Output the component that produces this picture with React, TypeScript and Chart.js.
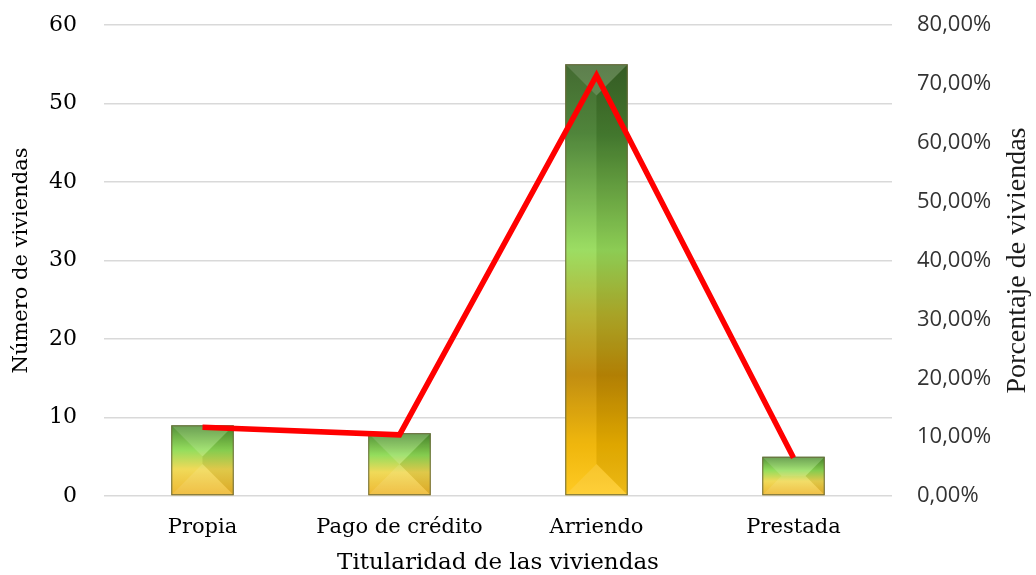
import React, { useEffect, useRef } from "react";
import { Chart, registerables } from "chart.js";

Chart.register(...registerables);

const categories = ["Propia", "Pago de crédito", "Arriendo", "Prestada"];
const viviendas = [9, 8, 55, 5];
const porcentaje = [11.69, 10.39, 71.43, 6.49];
const leftTicks = { min: 0, max: 60, step: 10 };
const rightTicks = { min: 0, max: 80, step: 10 };

const tallStops: [number, string][] = [
  [0, "#3a6327"],
  [0.16, "#477f31"],
  [0.43, "#97dc5b"],
  [0.58, "#b5b02a"],
  [0.72, "#bf8905"],
  [0.88, "#efb300"],
  [1, "#ffc819"],
];
const shortStops: [number, string][] = [
  [0, "#4a8a2e"],
  [0.35, "#8fdc55"],
  [0.62, "#f0d850"],
  [1, "#eeb326"],
];

const bevelPlugin = {
  id: "bevel",
  afterDatasetDraw(chart: any, args: any) {
    if (args.index !== 0) return;
    const ctx = chart.ctx;
    args.meta.data.forEach((el: any) => {
      const { x, y, base, width } = el.getProps(["x", "y", "base", "width"], true);
      const l = x - width / 2;
      const r = x + width / 2;
      const t = Math.min(y, base);
      const b = Math.max(y, base);
      const h = b - t;
      const d = Math.min(width / 2, h / 2);
      const il = l + d, ir = r - d, it = t + d, ib = b - d;
      const facet = (pts: number[][], color: string) => {
        ctx.beginPath();
        ctx.moveTo(pts[0][0], pts[0][1]);
        for (let i = 1; i < pts.length; i++) ctx.lineTo(pts[i][0], pts[i][1]);
        ctx.closePath();
        ctx.fillStyle = color;
        ctx.fill();
      };
      ctx.save();
      facet([[l, t], [r, t], [ir, it], [il, it]], "rgba(255,255,255,0.18)");
      facet([[l, t], [il, it], [il, ib], [l, b]], "rgba(255,255,255,0.05)");
      facet([[r, t], [r, b], [ir, ib], [ir, it]], "rgba(0,0,0,0.07)");
      facet([[l, b], [il, ib], [ir, ib], [r, b]], "rgba(255,255,255,0.14)");
      ctx.strokeStyle = "#6a6a3c";
      ctx.lineWidth = 1;
      ctx.strokeRect(l + 0.5, t + 0.5, width - 1, h - 1);
      ctx.restore();
    });
  },
};

const rightTitlePlugin = {
  id: "rightTitle",
  afterDraw(chart: any) {
    const ctx = chart.ctx;
    const s = chart.scales.y1;
    const area = chart.chartArea;
    ctx.save();
    ctx.translate(s.right - 18, (area.top + area.bottom) / 2);
    ctx.rotate(-Math.PI / 2);
    ctx.textAlign = "center";
    ctx.textBaseline = "middle";
    ctx.font = '28px "Liberation Serif"';
    ctx.fillStyle = "#1a1a1a";
    ctx.fillText("Porcentaje de viviendas", 0, 0);
    ctx.restore();
  },
};

export default function App() {
  const ref = useRef<HTMLCanvasElement | null>(null);

  useEffect(() => {
    if (!ref.current) return;
    const chart = new Chart(ref.current, {
      type: "bar",
      data: {
        labels: categories,
        datasets: [
          {
            type: "bar",
            label: "Número de viviendas",
            data: viviendas,
            yAxisID: "y",
            order: 2,
            barPercentage: 0.317,
            categoryPercentage: 1,
            borderWidth: 0,
            backgroundColor: (c: any) => {
              const chart = c.chart;
              const ys = chart.scales && chart.scales.y;
              if (!chart.chartArea || !ys || c.dataIndex === undefined) return "#8bc34a";
              const top = ys.getPixelForValue(viviendas[c.dataIndex]);
              const bottom = ys.getPixelForValue(0);
              const g = chart.ctx.createLinearGradient(0, top, 0, bottom);
              const stops = bottom - top > 150 ? tallStops : shortStops;
              stops.forEach(([o, col]) => g.addColorStop(o, col));
              return g;
            },
          } as any,
          {
            type: "line",
            label: "Porcentaje de viviendas",
            data: porcentaje,
            yAxisID: "y1",
            order: 1,
            borderColor: "#ff0000",
            backgroundColor: "#ff0000",
            borderWidth: 5.5,
            pointRadius: 0,
            tension: 0,
            fill: false,
          } as any,
        ],
      },
      options: {
        animation: false,
        responsive: false,
        layout: { padding: { top: 25, left: 0, right: 0, bottom: 0 } },
        plugins: { legend: { display: false }, tooltip: { enabled: false } },
        scales: {
          x: {
            grid: { display: false, drawTicks: false },
            border: { display: false },
            ticks: {
              font: { family: '"DejaVu Serif"', size: 21 },
              color: "#000000",
              padding: 19,
            },
            title: {
              display: true,
              text: "Titularidad de las viviendas",
              font: { family: '"DejaVu Serif"', size: 23, lineHeight: 1 },
              color: "#000000",
              padding: { top: 0, bottom: 0 },
            },
            afterFit: (s: any) => {
              s.height = 79;
            },
          },
          y: {
            position: "left",
            min: leftTicks.min,
            max: leftTicks.max,
            grid: {
              color: "#d9d9d9",
              lineWidth: 1.5,
              drawTicks: true,
              tickLength: 27,
              tickColor: "rgba(0,0,0,0)",
            },
            border: { display: false },
            ticks: {
              stepSize: leftTicks.step,
              font: { family: '"DejaVu Serif"', size: 22 },
              color: "#000000",
              padding: 0,
            },
            title: {
              display: true,
              text: "Número de viviendas",
              font: { family: '"DejaVu Serif"', size: 21, lineHeight: 1 },
              color: "#000000",
              padding: { top: 11, bottom: 0 },
            },
            afterFit: (s: any) => {
              s.width = 104;
            },
          },
          y1: {
            position: "right",
            min: rightTicks.min,
            max: rightTicks.max,
            grid: {
              drawOnChartArea: false,
              drawTicks: true,
              tickLength: 25,
              tickColor: "rgba(0,0,0,0)",
            },
            border: { display: false },
            ticks: {
              stepSize: rightTicks.step,
              font: { family: '"Open Sans"', size: 22 },
              color: "#333333",
              padding: 0,
              callback: (v: any) => Number(v).toFixed(2).replace(".", ",") + "%",
            },
            afterFit: (s: any) => {
              s.width = 144;
            },
          },
        },
      } as any,
      plugins: [bevelPlugin, rightTitlePlugin],
    });
    return () => chart.destroy();
  }, []);

  return (
    <div style={{ position: "fixed", left: 0, top: 0, width: 1036, height: 575, background: "#fff" }}>
      <canvas ref={ref} width={1036} height={575} style={{ display: "block" }} />
    </div>
  );
}
